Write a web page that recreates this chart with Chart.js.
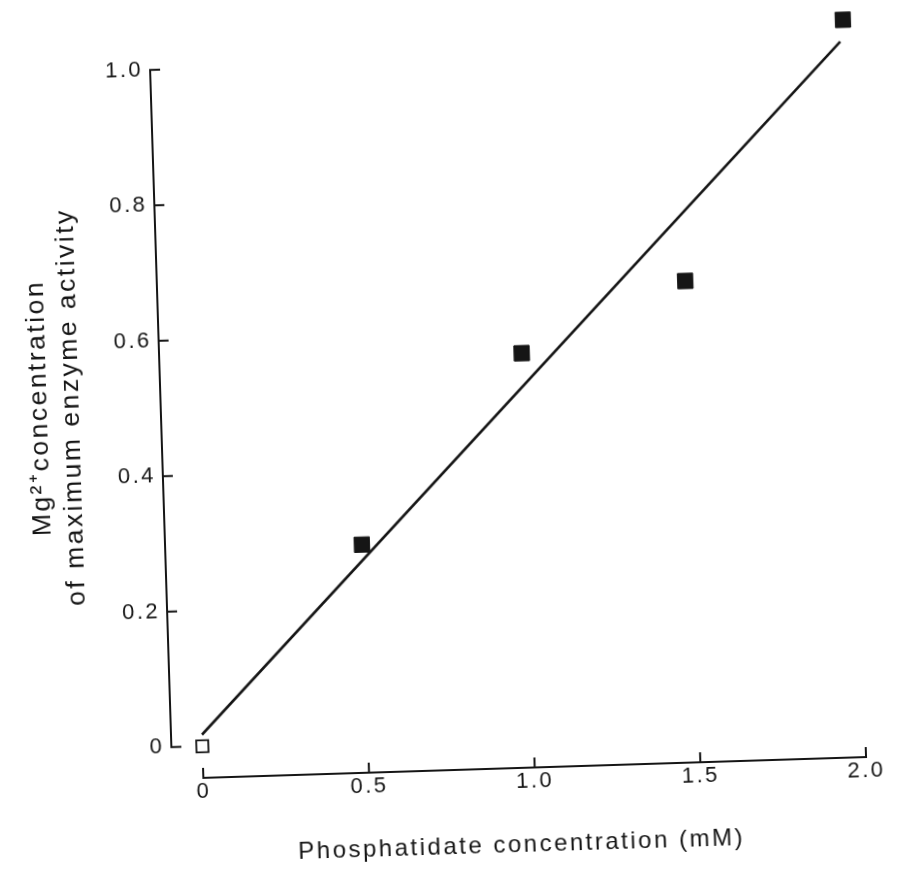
<!DOCTYPE html>
<html>
<head>
<meta charset="utf-8">
<title>Mg2+ requirement and phosphatidate</title>
<script src="https://cdn.jsdelivr.net/npm/chart.js@4/dist/chart.umd.min.js"></script>
<style>
  html, body { margin: 0; padding: 0; background: #fff; }
  /* the printed figure sits a little askew on the page */
  #wrap { width: 898px; height: 888px; transform: rotate(-1.8deg); transform-origin: 449px 444px; }
</style>
</head>
<body>
<div id="wrap"><canvas id="graph"></canvas></div>
<script>
// Measured points: phosphatidate (mM) vs Mg2+ needed for maximum activity
var phosphatidate = [0, 0.5, 1.0, 1.5, 2.0];
var mgNeeded = [0, 0.29, 0.565, 0.664, 1.042];

// End points of the straight line through the data
var fitX = [0, 1.99];
var fitY = [0.017, 1.01];

// Axis ticks
var xTicks = [0, 0.5, 1.0, 1.5, 2.0];
var xTickLabels = ['0', '0.5', '1.0', '1.5', '2.0'];
var yTicks = [0, 0.2, 0.4, 0.6, 0.8, 1.0];
var yTickLabels = ['0', '0.2', '0.4', '0.6', '0.8', '1.0'];

var ink = '#151515';
var family = "'Liberation Sans', Arial, sans-serif";

// Open square for the blank, filled squares for the rest
var pointFill = phosphatidate.map(function (v, i) { return i === 0 ? '#fff' : ink; });
var pointSize = phosphatidate.map(function (v, i) { return i === 0 ? 8.5 : 10.8; });
var pointEdge = phosphatidate.map(function (v, i) { return i === 0 ? 1.8 : 1; });

// Axis lines with inward ticks, drawn only over the 0..1.0 / 0..2.0 span
var paperAxes = {
    id: 'paperAxes',
    beforeDraw: function (chart) {
        chart.ctx.letterSpacing = '2.5px';
    },
    beforeDatasetsDraw: function (chart) {
        var ctx = chart.ctx;
        var xs = chart.scales.x;
        var ys = chart.scales.y;
        var left = chart.chartArea.left;
        var bottom = chart.chartArea.bottom;
        ctx.save();
        ctx.strokeStyle = ink;
        ctx.lineWidth = 2;
        ctx.lineCap = 'square';
        ctx.beginPath();
        ctx.moveTo(left, ys.getPixelForValue(yTicks[0]));
        ctx.lineTo(left, ys.getPixelForValue(yTicks[yTicks.length - 1]));
        yTicks.forEach(function (v) {
            var py = ys.getPixelForValue(v);
            ctx.moveTo(left, py);
            ctx.lineTo(left + 9, py);
        });
        ctx.moveTo(xs.getPixelForValue(xTicks[0]), bottom);
        ctx.lineTo(xs.getPixelForValue(xTicks[xTicks.length - 1]), bottom);
        xTicks.forEach(function (v) {
            var px = xs.getPixelForValue(v);
            ctx.moveTo(px, bottom);
            ctx.lineTo(px, bottom - 9);
        });
        ctx.stroke();
        ctx.restore();
    }
};

var canvas = document.getElementById('graph');

var chart = new Chart(canvas, {
    type: 'scatter',
    data: {
        datasets: [{
            type: 'line',
            data: fitX.map(function (x, i) { return { x: x, y: fitY[i] }; }),
            borderColor: ink,
            borderWidth: 2.6,
            pointRadius: 0,
            fill: false,
            clip: false
        }, {
            data: phosphatidate.map(function (x, i) { return { x: x, y: mgNeeded[i] }; }),
            pointStyle: 'rect',
            pointRadius: pointSize,
            backgroundColor: pointFill,
            borderColor: ink,
            borderWidth: pointEdge,
            clip: false
        }]
    },
    options: {
        responsive: true,
        maintainAspectRatio: false,
        animation: false,
        layout: { padding: { top: 13, right: 42, left: 0, bottom: 0 } },
        plugins: {
            legend: { display: false },
            tooltip: { enabled: false }
        },
        scales: {
            x: {
                type: 'linear',
                min: -0.0935,
                max: 2.0,
                afterBuildTicks: function (scale) {
                    scale.ticks = xTicks.map(function (v) { return { value: v }; });
                },
                afterFit: function (scale) { scale.height = 118; },
                grid: { display: false, drawTicks: false },
                border: { display: false },
                ticks: {
                    callback: function (v, i) { return xTickLabels[i]; },
                    font: { family: family, size: 22 },
                    color: ink,
                    padding: 1,
                    maxRotation: 0,
                    autoSkip: false
                },
                title: {
                    display: true,
                    text: 'Phosphatidate concentration (mM)',
                    font: { family: family, size: 24, lineHeight: 1.2 },
                    color: ink,
                    padding: { top: 0, bottom: 26 }
                }
            },
            y: {
                type: 'linear',
                min: -0.0468,
                max: 1.06,
                afterBuildTicks: function (scale) {
                    scale.ticks = yTicks.map(function (v) { return { value: v }; });
                },
                afterFit: function (scale) { scale.width = 162; },
                grid: { display: false, drawTicks: false },
                border: { display: false },
                ticks: {
                    callback: function (v, i) { return yTickLabels[i]; },
                    font: { family: family, size: 22 },
                    color: ink,
                    padding: 7,
                    autoSkip: false
                },
                title: {
                    display: true,
                    text: ['Mg\u00B2\u207Aconcentration', 'of maximum enzyme activity'],
                    font: { family: family, size: 26.5, lineHeight: 1.2 },
                    color: ink,
                    padding: { top: 25, bottom: 0 }
                }
            }
        }
    },
    plugins: [paperAxes]
});
</script>
</body>
</html>
